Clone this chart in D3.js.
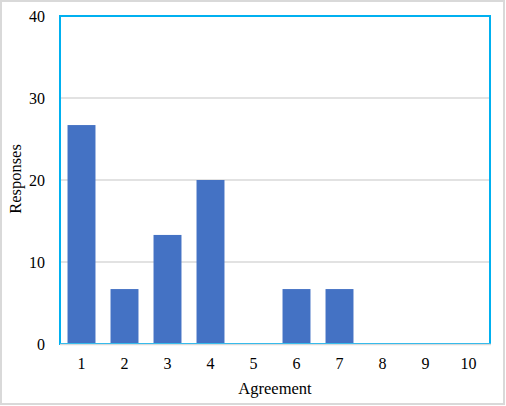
<!DOCTYPE html>
<html><head><meta charset="utf-8">
<script src="https://cdn.jsdelivr.net/npm/d3@7"></script>
<style>body{margin:0;background:#fff}svg{display:block}text{font-family:"Liberation Serif","Times New Roman",serif;fill:#000}</style>
</head><body>
<script>
const categories = ["1","2","3","4","5","6","7","8","9","10"];
const responses = [26.7, 6.7, 13.3, 20, 0, 6.7, 6.7, 0, 0, 0];
const yTicks = [0, 10, 20, 30, 40];

const W = 506, H = 406;
const m = {left: 60, top: 16, right: 16, bottom: 62};
const svg = d3.select("body").append("svg").attr("width", W).attr("height", H);

svg.append("rect").attr("x", 1).attr("y", 1).attr("width", W - 3).attr("height", H - 3)
  .attr("fill", "#fff").attr("stroke", "#d9d9d9").attr("stroke-width", 2);

const x = d3.scaleBand().domain(categories).range([m.left, W - m.right]).paddingInner(0.35).paddingOuter(0.175);
const y = d3.scaleLinear().domain([0, 40]).range([H - m.bottom, m.top]);

// gridlines
svg.append("g").selectAll("line").data(yTicks.filter(d => d > 0)).join("line")
  .attr("x1", m.left).attr("x2", W - m.right)
  .attr("y1", d => y(d)).attr("y2", d => y(d))
  .attr("stroke", "#d9d9d9").attr("stroke-width", 1.3);

// bars
svg.append("g").selectAll("rect").data(responses).join("rect")
  .attr("x", (d, i) => x(categories[i]))
  .attr("width", x.bandwidth())
  .attr("y", d => y(d))
  .attr("height", d => y(0) - y(d))
  .attr("fill", "#4472c4");

// plot border (blue)
svg.append("rect").attr("x", m.left).attr("y", m.top)
  .attr("width", W - m.right - m.left).attr("height", H - m.bottom - m.top)
  .attr("fill", "none").attr("stroke", "#00b0f0").attr("stroke-width", 2);

// x axis line
svg.append("line").attr("x1", m.left).attr("x2", W - m.right + 1)
  .attr("y1", y(0) + 0.5).attr("y2", y(0) + 0.5)
  .attr("stroke", "#d9d9d9").attr("stroke-width", 1.5);

// y axis labels
const yAxis = d3.axisLeft(y).tickValues(yTicks).tickSize(0).tickPadding(15);
const gy = svg.append("g").attr("transform", `translate(${m.left},0)`).call(yAxis);
gy.select(".domain").remove();
gy.attr("font-family", null);
gy.selectAll("text").style("font-size", "16px");

// x axis labels
const xAxis = d3.axisBottom(x).tickSize(0).tickPadding(14);
const gx = svg.append("g").attr("transform", `translate(0,${y(0)})`).call(xAxis);
gx.select(".domain").remove();
gx.attr("font-family", null);
gx.selectAll("text").style("font-size", "16px");

// titles
svg.append("text").attr("x", 275).attr("y", 394)
  .attr("text-anchor", "middle").style("font-size", "16.5px").text("Agreement");
svg.append("text").attr("transform", `translate(21,179) rotate(-90)`)
  .attr("text-anchor", "middle").style("font-size", "16.5px").text("Responses");
</script>
</body></html>
